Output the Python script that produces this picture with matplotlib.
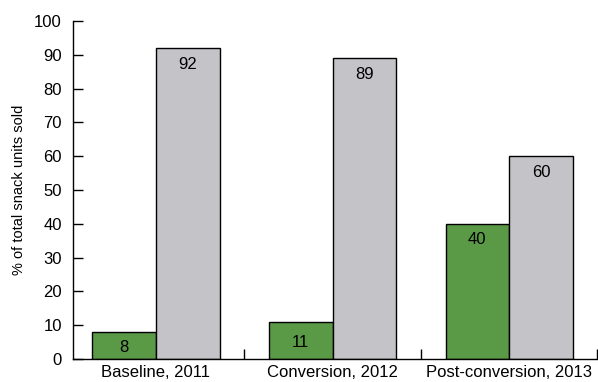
import matplotlib
matplotlib.use("Agg")
import matplotlib.pyplot as plt
import numpy as np

categories = ["Baseline, 2011", "Conversion, 2012", "Post-conversion, 2013"]
healthy = [8, 11, 40]
other = [92, 89, 60]

plt.rcParams['font.family'] = ['Liberation Sans', 'DejaVu Sans']

fig = plt.figure(figsize=(5.98, 3.82), dpi=100)
ax = fig.add_axes((0.122, 0.060, 0.877, 0.885))

x = np.arange(len(categories)) + 0.5
w = 0.36
b1 = ax.bar(x - w / 2, healthy, w, color='#5a9a47', edgecolor='black', linewidth=1)
b2 = ax.bar(x + w / 2, other, w, color='#c4c3c8', edgecolor='black', linewidth=1)

for bars, vals in [(b1, healthy), (b2, other)]:
    for r, v in zip(bars, vals):
        cx = r.get_x() + r.get_width() / 2
        if v < 15:
            ax.text(cx, v / 2 - 0.5, str(v), ha='center', va='center', fontsize=12)
        else:
            ax.annotate(str(v), (cx, v), xytext=(0, -11.5), textcoords='offset points',
                        ha='center', va='center', fontsize=12)

ax.set_xlim(0.03, 3)
ax.set_ylim(0, 100)
ax.set_yticks(range(0, 101, 10))
ax.set_xticks(x)
ax.set_xticklabels(categories)
ax.set_xticks([1, 2, 3], minor=True)
ax.tick_params(axis='x', which='major', length=0, labelsize=12, pad=4)
ax.tick_params(axis='x', which='minor', direction='in', length=7, width=1)
ax.tick_params(axis='y', direction='in', length=7, width=1, labelsize=12, pad=8)
for s in ['top', 'right']:
    ax.spines[s].set_visible(False)
for s in ['left', 'bottom']:
    ax.spines[s].set_linewidth(1)
ax.set_ylabel('% of total snack units sold', fontsize=10.5, labelpad=6)

fig.savefig('out.png', dpi=100)
